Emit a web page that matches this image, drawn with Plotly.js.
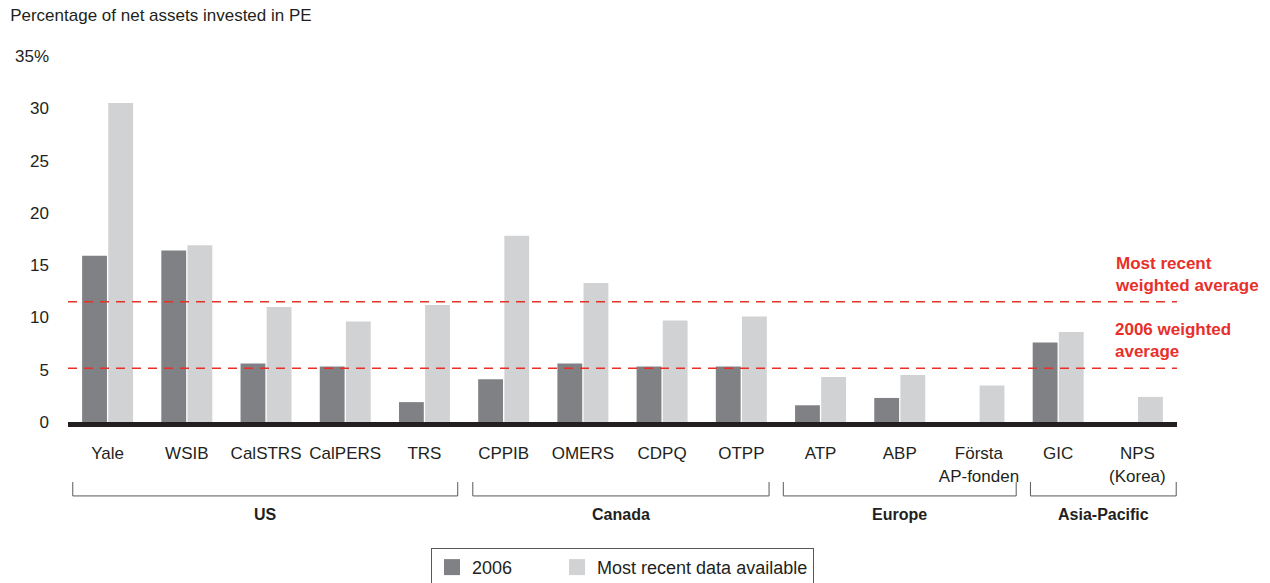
<!DOCTYPE html>
<html>
<head>
<meta charset="utf-8">
<script src="https://cdn.plot.ly/plotly-3.0.1.min.js"></script>
<style>html,body{margin:0;padding:0;background:#fff;}#chart{width:1270px;height:583px;}</style>
</head>
<body>
<div id="chart"></div>
<script>
// ---- data ----
const categories = ["Yale","WSIB","CalSTRS","CalPERS","TRS","CPPIB","OMERS","CDPQ","OTPP","ATP","ABP","Första<br>AP-fonden","GIC","NPS<br>(Korea)"];
const values2006 = [15.9, 16.4, 5.6, 5.3, 1.9, 4.1, 5.6, 5.3, 5.3, 1.6, 2.3, null, 7.6, null];
const valuesRecent = [30.5, 16.9, 11.0, 9.6, 11.2, 17.8, 13.3, 9.7, 10.1, 4.3, 4.5, 3.5, 8.6, 2.4];
const groupNames = ["US","Canada","Europe","Asia-Pacific"];
const groupStart = [0, 5, 9, 12];
const groupEnd = [4, 8, 11, 13];
const avgRecent = 11.5;
const avg2006 = 5.15;
const yTickVals = [0,5,10,15,20,25,30,35];
const yTickText = ["0","5","10","15","20","25","30","35%"];
const seriesNames = ["2006","Most recent data available"];

// ---- styling ----
const DARK = "#808184", LIGHT = "#d1d2d4", RED = "#e8302a", TXT = "#231f20";
const FONT = "Liberation Sans, Arial, sans-serif";
const PAD = "\u00a0".repeat(8);
const bracketPadL = [0.44, 0.39, 0.47, 0.35];
const bracketPadR = [0.42, 0.35, 0.47, 0.49];

const traces = [
  {type:"bar", x:categories, y:values2006, name:seriesNames[0], marker:{color:DARK}, showlegend:false, hoverinfo:"skip"},
  {type:"bar", x:categories, y:valuesRecent, name:seriesNames[1], marker:{color:LIGHT}, showlegend:false, hoverinfo:"skip"},
  {type:"scatter", mode:"markers", x:[null], y:[null], name:seriesNames[0] + PAD, marker:{symbol:"square", size:19, color:DARK}},
  {type:"scatter", mode:"markers", x:[null], y:[null], name:seriesNames[1], marker:{symbol:"square", size:19, color:LIGHT}}
];

const shapes = [
  {type:"line", xref:"paper", yref:"y", x0:0, x1:1, y0:avgRecent, y1:avgRecent, line:{color:RED, width:1.5, dash:"9px,7px"}},
  {type:"line", xref:"paper", yref:"y", x0:0, x1:1, y0:avg2006, y1:avg2006, line:{color:RED, width:1.5, dash:"9px,7px"}}
];
const annotations = [
  {xref:"paper", yref:"y", x:0.942, y:14.06, xanchor:"left", yanchor:"middle", align:"left", showarrow:false,
   text:"<b>Most recent<br>weighted average</b>", font:{family:FONT, size:17, color:RED}},
  {xref:"paper", yref:"y", x:0.942, y:7.8, xanchor:"left", yanchor:"middle", align:"left", showarrow:false,
   text:"<b>2006 weighted<br>average</b>", font:{family:FONT, size:17, color:RED}}
];
const yBar = -0.202, yTick = -0.164, yLab = -0.254;
for (let g = 0; g < groupNames.length; g++) {
  const x0 = groupStart[g] - bracketPadL[g], x1 = groupEnd[g] + bracketPadR[g];
  shapes.push({type:"path", xref:"x", yref:"paper",
    path:`M ${x0} ${yTick} L ${x0} ${yBar} L ${x1} ${yBar} L ${x1} ${yTick}`,
    line:{color:"#58595b", width:1}});
  annotations.push({xref:"x", yref:"paper", x:(x0 + x1) / 2, y:yLab, xanchor:"center", yanchor:"middle", showarrow:false,
    text:"<b>" + groupNames[g] + "</b>", font:{family:FONT, size:16, color:TXT}});
}

const layout = {
  width:1270, height:583,
  margin:{l:68, r:93, t:56, b:161, pad:0, autoexpand:false},
  paper_bgcolor:"#fff", plot_bgcolor:"#fff",
  font:{family:FONT, size:17, color:TXT},
  title:{text:"Percentage of net assets invested in PE", x:0.008, xanchor:"left", y:0.974, yanchor:"middle",
         font:{family:FONT, size:17, color:TXT}},
  barmode:"group", bargap:0.34, bargroupgap:0.05,
  xaxis:{type:"category", range:[-0.5, 13.5], showline:true, linewidth:5, linecolor:TXT, ticks:"", automargin:false,
         showgrid:false, zeroline:false, tickfont:{family:FONT, size:17, color:TXT}, ticklabelstandoff:12, fixedrange:true},
  yaxis:{range:[0,35], tickmode:"array", tickvals:yTickVals, ticktext:yTickText, showgrid:false, zeroline:false, automargin:false,
         showline:false, ticks:"", tickfont:{family:FONT, size:17, color:TXT}, ticklabelstandoff:18, fixedrange:true},
  legend:{orientation:"h", x:0.5, xanchor:"center", y:-0.344, yanchor:"top", bordercolor:"#58595b", borderwidth:1,
          font:{family:FONT, size:18, color:TXT}, bgcolor:"#fff"},
  shapes:shapes, annotations:annotations, showlegend:true
};

Plotly.newPlot("chart", traces, layout, {displayModeBar:false, staticPlot:true});
</script>
</body>
</html>
